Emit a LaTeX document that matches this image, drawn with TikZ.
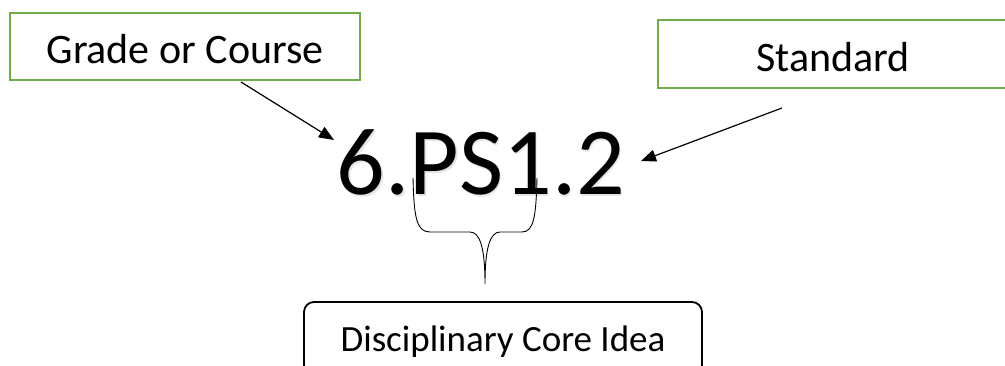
\documentclass[tikz,border=0pt]{standalone}
\usepackage{fontspec}
\setmainfont{Carlito}
\usetikzlibrary{arrows.meta,calc}
\definecolor{boxgreen}{HTML}{70AD47}
\begin{document}
\begin{tikzpicture}[x=1pt,y=-1pt,
  greenbox/.style={draw=boxgreen, line width=2pt, inner sep=0pt,
    minimum width=350pt, font=\fontsize{42}{42}\selectfont,
    text height=35pt, text depth=0pt},
  ideabox/.style={draw=black, line width=1.8pt, rounded corners=10pt, inner sep=0pt,
    minimum width=398pt, minimum height=73pt, font=\fontsize{37}{37}\selectfont,
    text height=27pt, text depth=0pt},
  codetext/.style={inner sep=0pt, anchor=base, font=\fontsize{96}{96}\selectfont},
  pointer/.style={draw=black, line width=1.2pt, -{Triangle[length=15pt,width=12pt]}},
  bracket/.style={draw=black, line width=0.9pt}
]
\useasboundingbox (0,0) rectangle (1005,366);

% labelled boxes
\node[greenbox, minimum height=67pt] (grade) at (185,46.5) {Grade or Course};
\node[greenbox, minimum height=68pt] (standard) at (833,54) {Standard};
\node[ideabox] (idea) at (503,338.5) {Disciplinary Core Idea};

% the standard code, with its soft shadow
\node[codetext, text=black!20, opacity=0.5] (codeshadow) at (482.5,196.5) {6.PS1.2};
\node[codetext] (code) at (481,195) {6.PS1.2};

% arrow ends beside the code
\coordinate (gradetip) at (334,140);
\coordinate (standardtip) at (641,161);
\coordinate (gradestart) at ($(grade.south west)+(232,1)$);
\coordinate (standardstart) at (782,108);

\draw[pointer] (gradestart) -- (gradetip);
\draw[pointer] (standardstart) -- (standardtip);

% brace under "PS1"
\coordinate (braceleft) at (413,178);
\coordinate (braceright) at (537,178);
\coordinate (bracetip) at (485,284);
\draw[bracket] (braceleft) .. controls (414,216) and (416,232) .. (430,232)
  -- (470,232) .. controls (480,232) and (485,248) .. (bracetip)
  .. controls (485,248) and (490,232) .. (500,232)
  -- (522,232) .. controls (534,232) and (536,216) .. (braceright);
\end{tikzpicture}
\end{document}
